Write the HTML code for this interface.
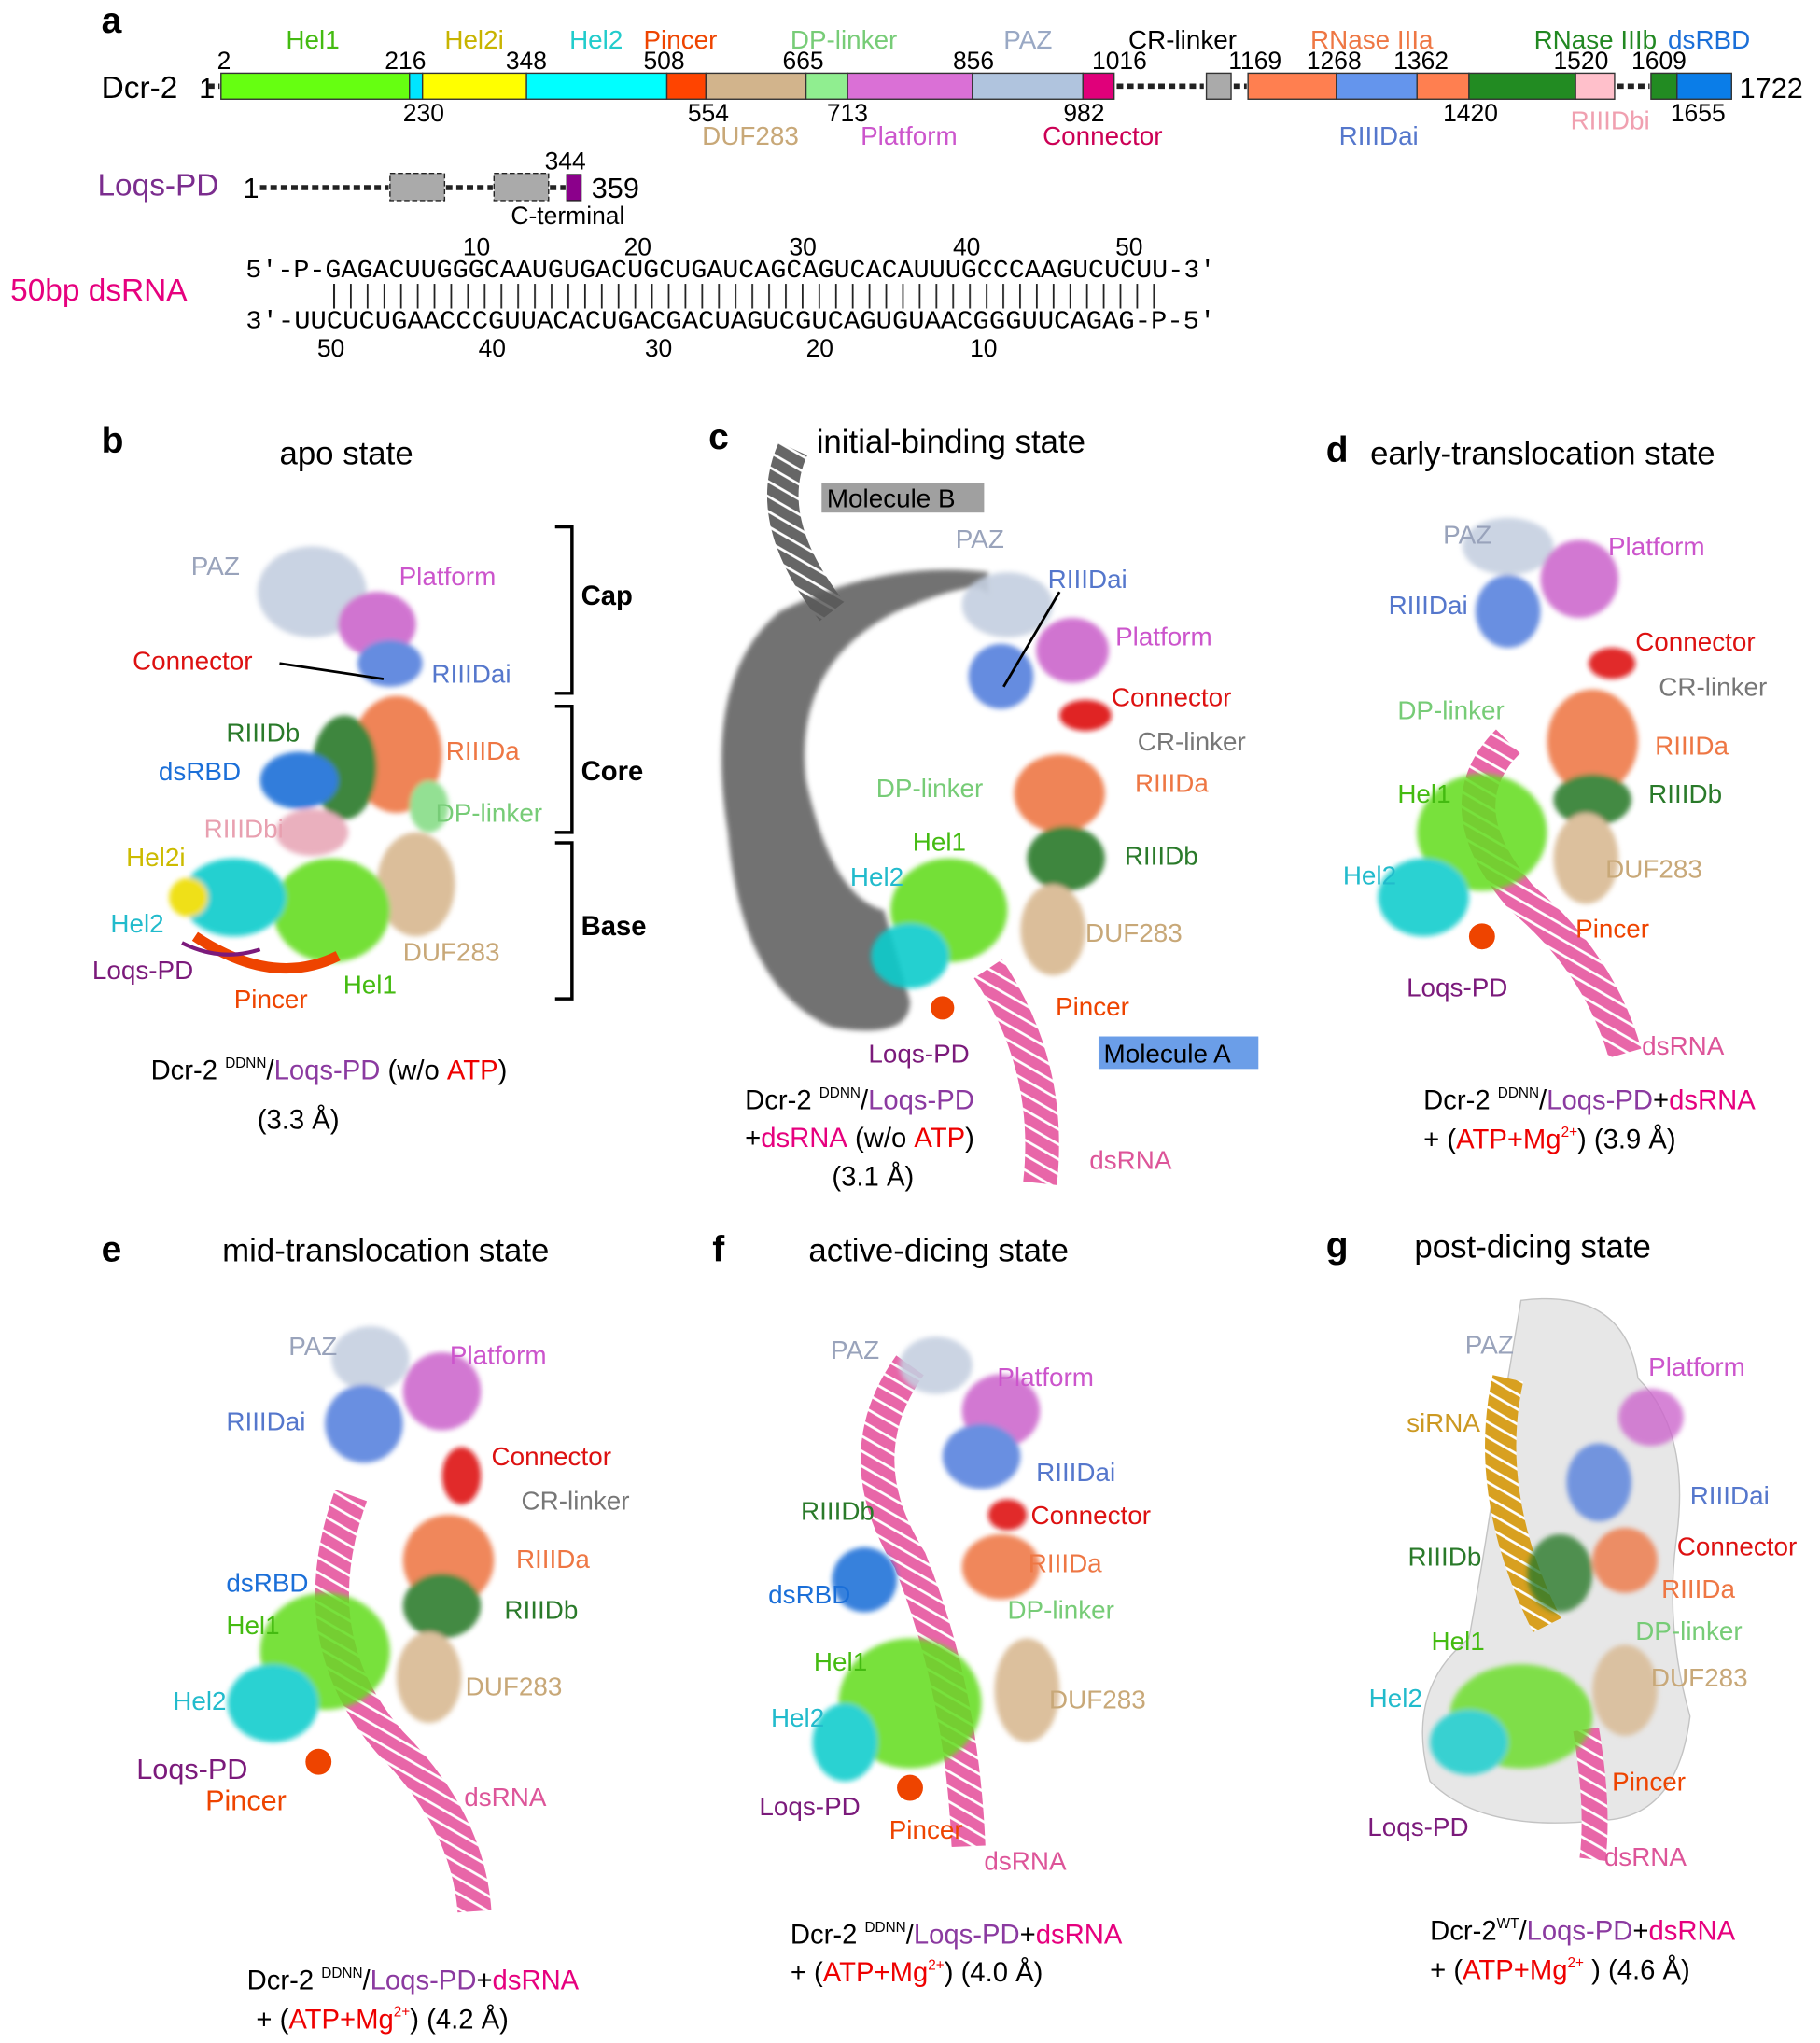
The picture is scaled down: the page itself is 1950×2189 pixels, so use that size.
<!DOCTYPE html>
<html><head><meta charset="utf-8"><style>
html,body{margin:0;padding:0;background:#fff}
svg{display:block}
text{font-family:"Liberation Sans",sans-serif}
.m{font-family:"Liberation Mono",monospace}
.pl{font-weight:bold;font-size:28px}
.tt{font-size:25px}
.l{font-size:20px}
.n{font-size:19px}
</style></head><body>
<svg width="1950" height="2189" viewBox="0 0 1400 1571" xmlns="http://www.w3.org/2000/svg">
<rect width="1400" height="1571" fill="#fff"/>
<!-- panel a -->
<text x="78" y="25" class="pl">a</text>
<g class="l" font-size="20">
<text x="220" y="37" fill="#44bb11">Hel1</text>
<text x="342" y="37" fill="#c8b400">Hel2i</text>
<text x="438" y="37" fill="#22cccc">Hel2</text>
<text x="495" y="37" fill="#ee4400">Pincer</text>
<text x="608" y="37" fill="#77cc77">DP-linker</text>
<text x="772" y="37" fill="#99a8c4">PAZ</text>
<text x="868" y="37" fill="#000">CR-linker</text>
<text x="1008" y="37" fill="#ee7744">RNase IIIa</text>
<text x="1180" y="37" fill="#228822">RNase IIIb</text>
<text x="1283" y="37" fill="#1b6fd8">dsRBD</text>
</g>
<g class="n" fill="#000">
<text x="167" y="53">2</text><text x="296" y="53">216</text><text x="389" y="53">348</text>
<text x="495" y="53">508</text><text x="602" y="53">665</text><text x="733" y="53">856</text>
<text x="840" y="53">1016</text><text x="945" y="53">1169</text><text x="1005" y="53">1268</text>
<text x="1072" y="53">1362</text><text x="1195" y="53">1520</text><text x="1255" y="53">1609</text>
<text x="310" y="93">230</text><text x="529" y="93">554</text><text x="636" y="93">713</text>
<text x="818" y="93">982</text><text x="1110" y="93">1420</text><text x="1285" y="93">1655</text>
</g>
<text x="78" y="75" font-size="24">Dcr-2</text><text x="153" y="75" font-size="22">1</text>
<text x="1338" y="75" font-size="22">1722</text>
<g stroke="#333" stroke-width="1">
<rect x="170" y="56" width="145" height="20" fill="#66ff11"/>
<rect x="315" y="56" width="10" height="20" fill="#00e5ff"/>
<rect x="325" y="56" width="80" height="20" fill="#ffff00"/>
<rect x="405" y="56" width="108" height="20" fill="#00ffff"/>
<rect x="513" y="56" width="30" height="20" fill="#ff4400"/>
<rect x="543" y="56" width="77" height="20" fill="#d2b48c"/>
<rect x="620" y="56" width="32" height="20" fill="#90ee90"/>
<rect x="652" y="56" width="96" height="20" fill="#da70d6"/>
<rect x="748" y="56" width="85" height="20" fill="#b0c4de"/>
<rect x="833" y="56" width="24" height="20" fill="#e0007a"/>
<rect x="928" y="56" width="19" height="20" fill="#aaa"/>
<rect x="960" y="56" width="68" height="20" fill="#ff7f50"/>
<rect x="1028" y="56" width="62" height="20" fill="#6495ed"/>
<rect x="1090" y="56" width="40" height="20" fill="#ff7f50"/>
<rect x="1130" y="56" width="82" height="20" fill="#228b22"/>
<rect x="1212" y="56" width="30" height="20" fill="#ffc0cb"/>
<rect x="1270" y="56" width="20" height="20" fill="#228b22"/>
<rect x="1290" y="56" width="42" height="20" fill="#0a7de8"/>
</g>
<g stroke="#222" stroke-width="4" stroke-dasharray="5,3">
<line x1="859" y1="66" x2="926" y2="66"/><line x1="949" y1="66" x2="959" y2="66"/>
<line x1="1244" y1="66" x2="1269" y2="66"/><line x1="160" y1="66" x2="169" y2="66"/>
<line x1="200" y1="144" x2="299" y2="144"/><line x1="343" y1="144" x2="379" y2="144"/><line x1="423" y1="144" x2="435" y2="144"/>
</g>
<g font-size="20">
<text x="540" y="111" fill="#c8a878">DUF283</text>
<text x="662" y="111" fill="#cc55cc">Platform</text>
<text x="802" y="111" fill="#cc0055">Connector</text>
<text x="1030" y="111" fill="#5577cc">RIIIDai</text>
<text x="1208" y="99" fill="#f0a0b0">RIIIDbi</text>
</g>
<text x="75" y="150" font-size="24" fill="#7b2d8e">Loqs-PD</text>
<text x="187" y="152" font-size="22">1</text>
<rect x="300" y="133" width="42" height="21" fill="#aaa" stroke="#222" stroke-dasharray="4,2"/>
<rect x="380" y="133" width="42" height="21" fill="#aaa" stroke="#222" stroke-dasharray="4,2"/>
<rect x="436" y="134" width="11" height="20" fill="#8b008b" stroke="#222"/>
<text x="419" y="130" class="n">344</text><text x="455" y="152" font-size="22">359</text>
<text x="393" y="172" class="n">C-terminal</text>
<text x="8" y="231" font-size="24" fill="#e6007e">50bp dsRNA</text>
<g class="n"><text x="356" y="196">10</text><text x="480" y="196">20</text><text x="607" y="196">30</text><text x="733" y="196">40</text><text x="858" y="196">50</text>
<text x="244" y="274">50</text><text x="368" y="274">40</text><text x="496" y="274">30</text><text x="620" y="274">20</text><text x="746" y="274">10</text></g>
<text x="189" y="213" class="m" font-size="19" textLength="746" lengthAdjust="spacingAndGlyphs">5′-P-GAGACUUGGGCAAUGUGACUGCUGAUCAGCAGUCACAUUUGCCCAAGUCUCUU-3′</text>
<text x="189" y="252" class="m" font-size="19" textLength="746" lengthAdjust="spacingAndGlyphs">3′-UUCUCUGAACCCGUUACACUGACGACUAGUCGUCAGUGUAACGGGUUCAGAG-P-5′</text>
<path d="M257 218V237" stroke="#222" stroke-width="1.2" stroke-dasharray="0"/>
<g stroke="#222" stroke-width="1.2">
<line x1="257" y1="218" x2="257" y2="237"/>
</g>
<pattern id="vb" width="12.87" height="20" patternUnits="userSpaceOnUse" x="251"><line x1="6" y1="0" x2="6" y2="20" stroke="#222" stroke-width="1.3"/></pattern>
<rect x="251" y="218" width="645" height="19" fill="url(#vb)"/>

<!-- helper: dsRNA pattern -->
<defs>
<pattern id="rna" width="10" height="10" patternUnits="userSpaceOnUse" patternTransform="rotate(30)"><rect width="10" height="10" fill="#e866a8"/><line x1="0" y1="5" x2="10" y2="5" stroke="#fff" stroke-width="2"/></pattern>
<pattern id="rnag" width="10" height="10" patternUnits="userSpaceOnUse" patternTransform="rotate(30)"><rect width="10" height="10" fill="#666"/><line x1="0" y1="5" x2="10" y2="5" stroke="#fff" stroke-width="2"/></pattern>
<pattern id="rnay" width="10" height="10" patternUnits="userSpaceOnUse" patternTransform="rotate(30)"><rect width="10" height="10" fill="#d8a020"/><line x1="0" y1="5" x2="10" y2="5" stroke="#fff" stroke-width="2"/></pattern>
<filter id="bl"><feGaussianBlur stdDeviation="2"/></filter>
</defs>

<!-- panel b -->
<text x="78" y="348" class="pl">b</text>
<text x="215" y="357" class="tt">apo state</text>
<g filter="url(#bl)" opacity="0.9">
<ellipse cx="240" cy="455" rx="42" ry="35" fill="#c4cfe0"/>
<ellipse cx="290" cy="480" rx="30" ry="25" fill="#cc66cc"/>
<ellipse cx="300" cy="510" rx="25" ry="18" fill="#5580dd"/>
<ellipse cx="305" cy="580" rx="35" ry="45" fill="#ee7744"/>
<ellipse cx="265" cy="590" rx="25" ry="40" fill="#2a7a2a"/>
<ellipse cx="230" cy="600" rx="30" ry="22" fill="#1b6fd8"/>
<ellipse cx="240" cy="640" rx="28" ry="18" fill="#e8a8b8"/>
<ellipse cx="320" cy="680" rx="30" ry="40" fill="#d8b890"/>
<ellipse cx="255" cy="700" rx="45" ry="40" fill="#66dd22"/>
<ellipse cx="180" cy="690" rx="40" ry="30" fill="#11cccc"/>
<ellipse cx="145" cy="690" rx="15" ry="15" fill="#eedd00"/>
<ellipse cx="330" cy="620" rx="15" ry="20" fill="#88dd88"/>
</g>
<path d="M150 720 Q210 760 260 735" stroke="#ee4400" stroke-width="8" fill="none"/>
<path d="M140 725 Q170 740 200 730" stroke="#7b1a7b" stroke-width="3" fill="none"/>
<line x1="215" y1="510" x2="295" y2="522" stroke="#000" stroke-width="2"/>
<g font-size="20">
<text x="147" y="442" fill="#99a3bb">PAZ</text><text x="307" y="450" fill="#cc55cc">Platform</text>
<text x="102" y="515" fill="#dd1111">Connector</text><text x="332" y="525" fill="#5577cc">RIIIDai</text>
<text x="174" y="570" fill="#2a7a2a">RIIIDb</text><text x="343" y="584" fill="#ee7744">RIIIDa</text>
<text x="122" y="600" fill="#1b6fd8">dsRBD</text><text x="335" y="632" fill="#77cc77">DP-linker</text>
<text x="157" y="644" fill="#e8a0b0">RIIIDbi</text><text x="97" y="666" fill="#ccbb00">Hel2i</text>
<text x="85" y="717" fill="#22bbcc">Hel2</text><text x="71" y="753" fill="#7b1a7b">Loqs-PD</text>
<text x="310" y="739" fill="#c8a878">DUF283</text><text x="180" y="775" fill="#ee4400">Pincer</text>
<text x="264" y="764" fill="#44bb11">Hel1</text>
</g>
<path d="M427 405H440V533H427M427 543H440V640H427M427 648H440V768H427" stroke="#000" stroke-width="2.5" fill="none"/>
<g font-size="21" font-weight="bold"><text x="447" y="465">Cap</text><text x="447" y="600">Core</text><text x="447" y="719">Base</text></g>
<text x="116" y="830" font-size="21">Dcr-2 <tspan font-size="11" dy="-9">DDNN</tspan><tspan dy="9">/</tspan><tspan fill="#8b3aa0">Loqs-PD</tspan> (w/o <tspan fill="#e00">ATP</tspan>)</text>
<text x="198" y="868" font-size="21">(3.3 Å)</text>

<!-- panel c -->
<text x="545" y="345" class="pl">c</text>
<text x="628" y="348" class="tt">initial-binding state</text>
<path d="M610 345 Q585 400 640 470" stroke="url(#rnag)" stroke-width="24" fill="none"/>
<path d="M600 470 Q540 520 560 640 Q570 760 640 790 Q700 800 700 770 L680 700 Q640 690 620 600 Q610 510 690 470 Q760 440 760 460 L760 440 Q680 430 600 470Z" fill="#5a5a5a" filter="url(#bl)" opacity="0.85"/>
<rect x="632" y="371" width="125" height="23" fill="#a0a0a0"/>
<text x="636" y="390" font-size="20">Molecule B</text>
<g filter="url(#bl)" opacity="0.9">
<ellipse cx="775" cy="465" rx="35" ry="25" fill="#c4cfe0"/>
<ellipse cx="825" cy="500" rx="28" ry="25" fill="#cc66cc"/>
<ellipse cx="770" cy="520" rx="25" ry="25" fill="#5580dd"/>
<ellipse cx="835" cy="550" rx="20" ry="12" fill="#dd1111"/>
<ellipse cx="815" cy="610" rx="35" ry="30" fill="#ee7744"/>
<ellipse cx="820" cy="660" rx="30" ry="25" fill="#2a7a2a"/>
<ellipse cx="730" cy="700" rx="45" ry="40" fill="#66dd22"/>
<ellipse cx="700" cy="735" rx="30" ry="25" fill="#11cccc"/>
<ellipse cx="810" cy="715" rx="25" ry="35" fill="#d8b890"/>
</g>
<path d="M760 745 Q810 820 800 910" stroke="url(#rna)" stroke-width="26" fill="none"/>
<circle cx="725" cy="775" r="9" fill="#ee4400"/>
<rect x="845" y="797" width="123" height="25" fill="#6b9ee8"/>
<text x="849" y="817" font-size="20">Molecule A</text>
<line x1="815" y1="455" x2="772" y2="528" stroke="#000" stroke-width="2"/>
<g font-size="20">
<text x="735" y="421" fill="#99a3bb">PAZ</text><text x="806" y="452" fill="#5577cc">RIIIDai</text>
<text x="858" y="496" fill="#cc55cc">Platform</text><text x="855" y="543" fill="#dd1111">Connector</text>
<text x="875" y="577" fill="#777">CR-linker</text><text x="873" y="609" fill="#ee7744">RIIIDa</text>
<text x="674" y="613" fill="#77cc77">DP-linker</text><text x="702" y="654" fill="#44bb11">Hel1</text>
<text x="865" y="665" fill="#2a7a2a">RIIIDb</text><text x="654" y="681" fill="#22bbcc">Hel2</text>
<text x="835" y="724" fill="#c8a878">DUF283</text><text x="812" y="781" fill="#ee4400">Pincer</text>
<text x="668" y="817" fill="#7b1a7b">Loqs-PD</text><text x="838" y="899" fill="#dd5599">dsRNA</text>
</g>
<text x="573" y="853" font-size="21">Dcr-2 <tspan font-size="11" dy="-9">DDNN</tspan><tspan dy="9">/</tspan><tspan fill="#8b3aa0">Loqs-PD</tspan></text>
<text x="573" y="882" font-size="21">+<tspan fill="#e6007e">dsRNA</tspan> (w/o <tspan fill="#e00">ATP</tspan>)</text>
<text x="640" y="912" font-size="21">(3.1 Å)</text>

<!-- panel d -->
<text x="1020" y="355" class="pl">d</text>
<text x="1054" y="357" class="tt">early-translocation state</text>
<path d="M1160 570 Q1110 620 1170 690 Q1230 740 1250 810" stroke="url(#rna)" stroke-width="26" fill="none"/>
<g filter="url(#bl)" opacity="0.88">
<ellipse cx="1160" cy="420" rx="35" ry="22" fill="#c4cfe0"/>
<ellipse cx="1215" cy="445" rx="30" ry="30" fill="#cc66cc"/>
<ellipse cx="1160" cy="470" rx="25" ry="28" fill="#5580dd"/>
<ellipse cx="1240" cy="510" rx="18" ry="12" fill="#dd1111"/>
<ellipse cx="1225" cy="570" rx="35" ry="40" fill="#ee7744"/>
<ellipse cx="1225" cy="615" rx="30" ry="20" fill="#2a7a2a"/>
<ellipse cx="1140" cy="640" rx="50" ry="45" fill="#66dd22"/>
<ellipse cx="1095" cy="690" rx="35" ry="30" fill="#11cccc"/>
<ellipse cx="1220" cy="660" rx="25" ry="35" fill="#d8b890"/>
</g>
<circle cx="1140" cy="720" r="10" fill="#ee4400"/>
<g font-size="20">
<text x="1110" y="418" fill="#99a3bb">PAZ</text><text x="1237" y="427" fill="#cc55cc">Platform</text>
<text x="1068" y="472" fill="#5577cc">RIIIDai</text><text x="1258" y="500" fill="#dd1111">Connector</text>
<text x="1276" y="535" fill="#777">CR-linker</text><text x="1075" y="553" fill="#77cc77">DP-linker</text>
<text x="1273" y="580" fill="#ee7744">RIIIDa</text><text x="1075" y="617" fill="#44bb11">Hel1</text>
<text x="1268" y="617" fill="#2a7a2a">RIIIDb</text><text x="1033" y="680" fill="#22bbcc">Hel2</text>
<text x="1235" y="675" fill="#c8a878">DUF283</text><text x="1212" y="721" fill="#ee4400">Pincer</text>
<text x="1082" y="766" fill="#7b1a7b">Loqs-PD</text><text x="1263" y="811" fill="#dd5599">dsRNA</text>
</g>
<text x="1095" y="853" font-size="21">Dcr-2 <tspan font-size="11" dy="-9">DDNN</tspan><tspan dy="9">/</tspan><tspan fill="#8b3aa0">Loqs-PD</tspan>+<tspan fill="#e6007e">dsRNA</tspan></text>
<text x="1095" y="883" font-size="21">+ (<tspan fill="#e00">ATP+Mg<tspan font-size="11" dy="-9">2+</tspan></tspan><tspan dy="9">)  (3.9 Å)</tspan></text>

<!-- panel e -->
<text x="78" y="970" class="pl">e</text>
<text x="171" y="970" class="tt">mid-translocation state</text>
<path d="M270 1150 Q230 1260 300 1340 Q360 1400 365 1470" stroke="url(#rna)" stroke-width="26" fill="none"/>
<g filter="url(#bl)" opacity="0.88">
<ellipse cx="285" cy="1045" rx="30" ry="25" fill="#c4cfe0"/>
<ellipse cx="340" cy="1070" rx="30" ry="30" fill="#cc66cc"/>
<ellipse cx="280" cy="1095" rx="30" ry="30" fill="#5580dd"/>
<ellipse cx="355" cy="1135" rx="15" ry="22" fill="#dd1111"/>
<ellipse cx="345" cy="1200" rx="35" ry="35" fill="#ee7744"/>
<ellipse cx="340" cy="1235" rx="30" ry="25" fill="#2a7a2a"/>
<ellipse cx="250" cy="1270" rx="50" ry="45" fill="#66dd22"/>
<ellipse cx="210" cy="1310" rx="35" ry="30" fill="#11cccc"/>
<ellipse cx="330" cy="1290" rx="25" ry="35" fill="#d8b890"/>
</g>
<circle cx="245" cy="1355" r="10" fill="#ee4400"/>
<g font-size="20">
<text x="222" y="1042" fill="#99a3bb">PAZ</text><text x="346" y="1049" fill="#cc55cc">Platform</text>
<text x="174" y="1100" fill="#5577cc">RIIIDai</text><text x="378" y="1127" fill="#dd1111">Connector</text>
<text x="401" y="1161" fill="#777">CR-linker</text><text x="397" y="1206" fill="#ee7744">RIIIDa</text>
<text x="174" y="1224" fill="#1b6fd8">dsRBD</text><text x="388" y="1245" fill="#2a7a2a">RIIIDb</text>
<text x="174" y="1257" fill="#44bb11">Hel1</text><text x="133" y="1315" fill="#22bbcc">Hel2</text>
<text x="358" y="1304" fill="#c8a878">DUF283</text><text x="357" y="1389" fill="#dd5599">dsRNA</text>
<text x="105" y="1368" font-size="22" fill="#7b1a7b">Loqs-PD</text><text x="158" y="1392" font-size="22" fill="#ee4400">Pincer</text>
</g>
<text x="190" y="1530" font-size="21">Dcr-2 <tspan font-size="11" dy="-9">DDNN</tspan><tspan dy="9">/</tspan><tspan fill="#8b3aa0">Loqs-PD</tspan>+<tspan fill="#e6007e">dsRNA</tspan></text>
<text x="197" y="1560" font-size="21">+ (<tspan fill="#e00">ATP+Mg<tspan font-size="11" dy="-9">2+</tspan></tspan><tspan dy="9">) (4.2 Å)</tspan></text>

<!-- panel f -->
<text x="548" y="970" class="pl">f</text>
<text x="622" y="970" class="tt">active-dicing state</text>
<path d="M700 1050 Q650 1120 700 1200 Q740 1300 745 1420" stroke="url(#rna)" stroke-width="26" fill="none"/>
<g filter="url(#bl)" opacity="0.88">
<ellipse cx="720" cy="1050" rx="28" ry="22" fill="#c4cfe0"/>
<ellipse cx="770" cy="1085" rx="30" ry="28" fill="#cc66cc"/>
<ellipse cx="755" cy="1120" rx="30" ry="25" fill="#5580dd"/>
<ellipse cx="775" cy="1165" rx="15" ry="12" fill="#dd1111"/>
<ellipse cx="770" cy="1205" rx="30" ry="25" fill="#ee7744"/>
<ellipse cx="665" cy="1215" rx="25" ry="25" fill="#1b6fd8"/>
<ellipse cx="700" cy="1310" rx="55" ry="50" fill="#66dd22"/>
<ellipse cx="650" cy="1340" rx="25" ry="30" fill="#11cccc"/>
<ellipse cx="790" cy="1300" rx="25" ry="40" fill="#d8b890"/>
</g>
<circle cx="700" cy="1375" r="10" fill="#ee4400"/>
<g font-size="20">
<text x="639" y="1045" fill="#99a3bb">PAZ</text><text x="767" y="1066" fill="#cc55cc">Platform</text>
<text x="797" y="1139" fill="#5577cc">RIIIDai</text><text x="616" y="1169" fill="#2a7a2a">RIIIDb</text>
<text x="793" y="1172" fill="#dd1111">Connector</text><text x="791" y="1209" fill="#ee7744">RIIIDa</text>
<text x="591" y="1233" fill="#1b6fd8">dsRBD</text><text x="775" y="1245" fill="#77cc77">DP-linker</text>
<text x="626" y="1285" fill="#44bb11">Hel1</text><text x="807" y="1314" fill="#c8a878">DUF283</text>
<text x="593" y="1328" fill="#22bbcc">Hel2</text><text x="584" y="1396" fill="#7b1a7b">Loqs-PD</text>
<text x="684" y="1414" fill="#ee4400">Pincer</text><text x="757" y="1438" fill="#dd5599">dsRNA</text>
</g>
<text x="608" y="1495" font-size="21">Dcr-2 <tspan font-size="11" dy="-9">DDNN</tspan><tspan dy="9">/</tspan><tspan fill="#8b3aa0">Loqs-PD</tspan>+<tspan fill="#e6007e">dsRNA</tspan></text>
<text x="608" y="1524" font-size="21">+ (<tspan fill="#e00">ATP+Mg<tspan font-size="11" dy="-9">2+</tspan></tspan><tspan dy="9">) (4.0 Å)</tspan></text>

<!-- panel g -->
<text x="1020" y="967" class="pl">g</text>
<text x="1088" y="967" class="tt">post-dicing state</text>
<path d="M1170 1000 Q1250 990 1260 1060 Q1300 1100 1290 1180 Q1280 1250 1300 1320 Q1290 1400 1230 1400 Q1140 1410 1100 1370 Q1080 1300 1130 1260 Q1150 1150 1160 1060Z" fill="#ddd" stroke="#aaa" opacity="0.7"/>
<path d="M1160 1060 Q1140 1150 1190 1250" stroke="url(#rnay)" stroke-width="24" fill="none"/>
<path d="M1220 1330 Q1230 1390 1225 1430" stroke="url(#rna)" stroke-width="20" fill="none"/>
<g filter="url(#bl)" opacity="0.8">
<ellipse cx="1270" cy="1090" rx="25" ry="22" fill="#cc66cc"/>
<ellipse cx="1230" cy="1140" rx="25" ry="30" fill="#5580dd"/>
<ellipse cx="1250" cy="1200" rx="25" ry="25" fill="#ee7744"/>
<ellipse cx="1200" cy="1210" rx="25" ry="30" fill="#2a7a2a"/>
<ellipse cx="1170" cy="1320" rx="55" ry="40" fill="#66dd22"/>
<ellipse cx="1130" cy="1340" rx="30" ry="25" fill="#11cccc"/>
<ellipse cx="1250" cy="1300" rx="25" ry="35" fill="#d8b890"/>
</g>
<g font-size="20">
<text x="1127" y="1041" fill="#99a3bb">PAZ</text><text x="1268" y="1058" fill="#cc55cc">Platform</text>
<text x="1082" y="1101" fill="#cc9922">siRNA</text><text x="1300" y="1157" fill="#5577cc">RIIIDai</text>
<text x="1290" y="1196" fill="#dd1111">Connector</text><text x="1083" y="1204" fill="#2a7a2a">RIIIDb</text>
<text x="1278" y="1229" fill="#ee7744">RIIIDa</text><text x="1101" y="1269" fill="#44bb11">Hel1</text>
<text x="1258" y="1261" fill="#77cc77">DP-linker</text><text x="1270" y="1297" fill="#c8a878">DUF283</text>
<text x="1053" y="1313" fill="#22bbcc">Hel2</text><text x="1240" y="1377" fill="#ee4400">Pincer</text>
<text x="1052" y="1412" fill="#7b1a7b">Loqs-PD</text><text x="1234" y="1435" fill="#dd5599">dsRNA</text>
</g>
<text x="1100" y="1492" font-size="21">Dcr-2<tspan font-size="11" dy="-9">WT</tspan><tspan dy="9">/</tspan><tspan fill="#8b3aa0">Loqs-PD</tspan>+<tspan fill="#e6007e">dsRNA</tspan></text>
<text x="1100" y="1522" font-size="21">+ (<tspan fill="#e00">ATP+Mg<tspan font-size="11" dy="-9">2+</tspan></tspan><tspan dy="9"> ) (4.6 Å)</tspan></text>
</svg>
</body></html>
